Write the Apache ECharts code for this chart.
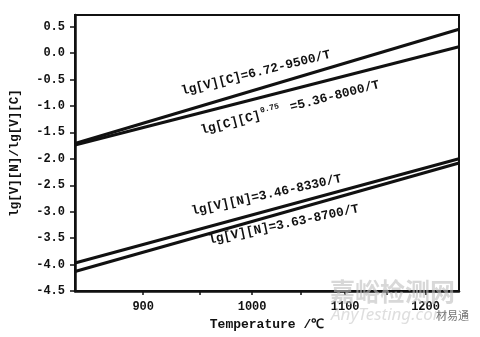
<!DOCTYPE html>
<html>
<head>
<meta charset="utf-8">
<script src="https://cdn.jsdelivr.net/npm/echarts@6/dist/echarts.min.js"></script>
<style>
  html, body { margin: 0; padding: 0; background: #fff; }
  #chart { width: 480px; height: 337px; }
</style>
</head>
<body>
<div id="chart"></div>
<script>
// temperatures (°C) at the two ends of each line
let temps = [845, 1246]
let vcLine = [-1.71, 0.45]   // lg[V][C]=6.72-9500/T
let ccLine = [-1.74, 0.12]   // lg[C][C]^0.75=5.36-8000/T
let vn1Line = [-3.97, -2.0]  // lg[V][N]=3.46-8330/T
let vn2Line = [-4.13, -2.08] // lg[V][N]=3.63-8700/T
let xLabels = [900, 1000, 1100, 1200]
let xTicks = [900, 950, 1000, 1050, 1100, 1150, 1200]
let yTicks = [-4.5, -4.0, -3.5, -3.0, -2.5, -2.0, -1.5, -1.0, -0.5, 0.0, 0.5]

// x axis is linear in 1/T (T in K)
function inv (t) { return 10000 / (t + 273.15) }
function pts (vals) {
  let out = []
  for (let i = 0; i < temps.length; i++) out.push([inv(temps[i]), vals[i]])
  return out
}

let font = 'Liberation Mono'
let ink = '#111'
let myChart = echarts.init(document.getElementById('chart'))

function line (vals) {
  return {
    type: 'line',
    data: pts(vals),
    showSymbol: false,
    lineStyle: { color: ink, width: 3 },
    silent: true
  }
}

let option = {
  animation: false,
  grid: {
    left: 72, right: 21, top: 15, bottom: 46,
    show: true, borderColor: ink, borderWidth: 2
  },
  xAxis: {
    type: 'value',
    inverse: true,
    min: inv(1246),
    max: inv(845),
    name: 'Temperature /℃',
    nameLocation: 'middle',
    nameGap: 26,
    nameTextStyle: { color: ink, fontFamily: font, fontSize: 13, fontWeight: 'bold' },
    axisLine: { onZero: false, lineStyle: { color: ink, width: 2.5 } },
    axisTick: { length: 4, lineStyle: { color: ink, width: 1.5 }, customValues: xTicks.map(inv) },
    axisLabel: {
      color: ink, fontFamily: font, fontSize: 12, fontWeight: 'bold', margin: 10,
      customValues: xLabels.map(inv),
      formatter: v => String(Math.round(10000 / v - 273.15))
    },
    splitLine: { show: false }
  },
  yAxis: {
    type: 'value',
    min: -4.5,
    max: 0.72,
    name: 'lg[V][N]/lg[V][C]',
    nameLocation: 'middle',
    nameGap: 54,
    nameTextStyle: { color: ink, fontFamily: font, fontSize: 12.5, fontWeight: 'bold' },
    axisLine: { onZero: false, lineStyle: { color: ink, width: 2.5 } },
    axisTick: { length: 5, lineStyle: { color: ink, width: 1.5 }, customValues: yTicks },
    axisLabel: {
      color: ink, fontFamily: font, fontSize: 12, fontWeight: 'bold', margin: 10,
      customValues: yTicks,
      formatter: v => v.toFixed(1)
    },
    splitLine: { show: false }
  },
  series: [line(vcLine), line(ccLine), line(vn1Line), line(vn2Line)],
  graphic: [
    {
      type: 'text', x: 183, y: 98, rotation: 14 * Math.PI / 180,
      style: { text: 'lg[V][C]=6.72-9500/T', font: 'bold 12.8px ' + font, fill: ink, verticalAlign: 'bottom' }
    },
    {
      type: 'text', x: 203, y: 139, rotation: 14.5 * Math.PI / 180,
      style: {
        text: '{a|lg[C][C]}{s|0.75}{a| =5.36-8000/T}',
        verticalAlign: 'bottom',
        rich: {
          a: { font: 'bold 12.8px ' + font, fill: ink },
          s: { font: 'bold 8px ' + font, fill: ink, padding: [0, 3, 9, 1] }
        }
      }
    },
    {
      type: 'text', x: 193, y: 218, rotation: 12.4 * Math.PI / 180,
      style: { text: 'lg[V][N]=3.46-8330/T', font: 'bold 12.8px ' + font, fill: ink, verticalAlign: 'bottom' }
    },
    {
      type: 'text', x: 210, y: 247, rotation: 12 * Math.PI / 180,
      style: { text: 'lg[V][N]=3.63-8700/T', font: 'bold 12.8px ' + font, fill: ink, verticalAlign: 'bottom' }
    },
    // watermark
    {
      type: 'text', x: 330, y: 279, z: 100,
      style: { text: '嘉峪检测网', font: 'bold 25px "Noto Sans CJK SC"', fill: 'rgba(190,190,190,0.6)' }
    },
    {
      type: 'text', x: 331, y: 307, z: 100,
      style: { text: 'AnyTesting.com', font: 'italic 17px "Noto Sans"', fill: 'rgba(200,200,200,0.6)' }
    },
    {
      type: 'text', x: 436, y: 310, z: 101,
      style: { text: '材易通', font: '11px "Noto Sans CJK SC"', fill: '#777' }
    }
  ]
}
myChart.setOption(option)
</script>
</body>
</html>
